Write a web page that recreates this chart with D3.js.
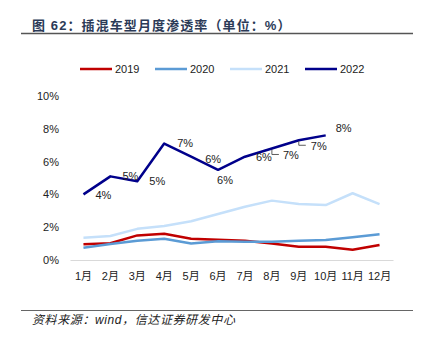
<!DOCTYPE html>
<html>
<head>
<meta charset="utf-8">
<script src="https://cdn.jsdelivr.net/npm/d3@7"></script>
<style>
  body { margin: 0; background: #fff; }
  text { font-family: "Liberation Sans", Arial, "Noto Sans CJK SC", sans-serif; }
</style>
</head>
<body>
<div id="chart"></div>
<script>
const months = ["1月", "2月", "3月", "4月", "5月", "6月", "7月", "8月", "9月", "10月", "11月", "12月"];
const seriesNames = ["2019", "2020", "2021", "2022"];
const values2019 = [0.96, 1.02, 1.5, 1.6, 1.3, 1.24, 1.18, 1.0, 0.81, 0.81, 0.63, 0.91];
const values2020 = [0.75, 0.98, 1.18, 1.3, 1.0, 1.14, 1.12, 1.12, 1.18, 1.22, 1.38, 1.57];
const values2021 = [1.36, 1.46, 1.9, 2.07, 2.36, 2.8, 3.25, 3.62, 3.41, 3.35, 4.07, 3.41];
const values2022 = [4.0, 5.1, 4.8, 7.1, 6.3, 5.5, 6.3, 6.8, 7.3, 7.6];
const yTicks = [0, 2, 4, 6, 8, 10];
const colors = ["#c00000", "#5b9bd5", "#c5e0fa", "#00008b"];

function createLineChart(containerId) {
  const W = 422, H = 344;
  const margin = { top: 96, right: 29, bottom: 84, left: 70 };
  const width = W - margin.left - margin.right;
  const height = H - margin.top - margin.bottom;

  const root = d3.select(containerId).append("svg")
    .attr("width", W)
    .attr("height", H);

  // title + rule
  root.append("text")
    .attr("x", 32)
    .attr("y", 30)
    .style("font-size", "13px")
    .style("font-weight", "bold")
    .style("letter-spacing", "1.1px")
    .style("fill", "#2b3a57")
    .text("图 62：插混车型月度渗透率（单位：%）");
  root.append("line")
    .attr("x1", 21).attr("x2", 413)
    .attr("y1", 33.5).attr("y2", 33.5)
    .attr("stroke", "#555").attr("stroke-width", 1.5);

  // footer
  root.append("line")
    .attr("x1", 21).attr("x2", 413)
    .attr("y1", 310.5).attr("y2", 310.5)
    .attr("stroke", "#666").attr("stroke-width", 1);
  root.append("text")
    .attr("x", 32)
    .attr("y", 324)
    .style("font-size", "12px")
    .style("font-style", "italic")
    .style("letter-spacing", "0.6px")
    .style("fill", "#222")
    .text("资料来源：wind，信达证券研发中心");

  const svg = root.append("g")
    .attr("transform", `translate(${margin.left},${margin.top})`);

  const x = d3.scaleBand().domain(months).range([0, width]);
  const y = d3.scaleLinear().domain([0, 10]).range([height, 0]);
  const cx = m => x(m) + x.bandwidth() / 2;

  // y axis labels
  const yAxis = svg.append("g")
    .call(d3.axisLeft(y).tickValues(yTicks).tickSize(0).tickPadding(11).tickFormat(d => d + "%"));
  yAxis.select(".domain").remove();
  yAxis.selectAll("text").style("font-size", "11px").style("fill", "#222")
    .style("font-family", "'Liberation Sans', Arial, sans-serif");

  // x axis
  const xAxis = svg.append("g")
    .attr("transform", `translate(0,${height})`)
    .call(d3.axisBottom(x).tickSize(0).tickPadding(12));
  xAxis.select(".domain").attr("stroke", "#d9d9d9").attr("stroke-width", 1);
  xAxis.selectAll("text").style("font-size", "11px").style("fill", "#222")
    .style("font-family", "'Liberation Sans', 'Noto Sans CJK SC', sans-serif");

  const allSeries = [values2019, values2020, values2021, values2022];
  const line = d3.line()
    .x((d, i) => cx(months[i]))
    .y(d => y(d));

  allSeries.forEach((vals, k) => {
    svg.append("path")
      .datum(vals)
      .attr("fill", "none")
      .attr("stroke", colors[k])
      .attr("stroke-width", 2.5)
      .attr("stroke-linejoin", "round")
      .attr("d", line);
  });

  // data labels for 2022 (offsets from each point; leader = callout line)
  const labelPlace = [
    { dx: 20, dy: 1 }, { dx: 20, dy: 0 }, { dx: 20, dy: 0 }, { dx: 21, dy: 0 },
    { dx: 22, dy: 2 }, { dx: 7, dy: 10 }, { dx: 19, dy: 0 },
    { dx: 19, dy: 7, leader: true }, { dx: 20, dy: 6, leader: true }, { dx: 18, dy: -7 }
  ];
  values2022.forEach((v, i) => {
    const px = cx(months[i]), py = y(v);
    const p = labelPlace[i];
    if (p.leader) {
      svg.append("path")
        .attr("d", `M${px},${py + 1}V${py + p.dy - 1}H${px + 7}`)
        .attr("fill", "none")
        .attr("stroke", "#333")
        .attr("stroke-width", 0.8);
    }
    svg.append("text")
      .attr("x", px + p.dx)
      .attr("y", py + p.dy)
      .attr("dy", "0.35em")
      .attr("text-anchor", "middle")
      .style("font-size", "11px")
      .style("fill", "#222")
      .text(Math.round(v) + "%");
  });

  // legend
  const legend = root.append("g").attr("transform", "translate(80,69)");
  seriesNames.forEach((name, i) => {
    const g = legend.append("g").attr("transform", `translate(${i * 75},0)`);
    g.append("line")
      .attr("x1", 0).attr("x2", 32)
      .attr("stroke", colors[i]).attr("stroke-width", 2.5);
    g.append("text")
      .attr("x", 35)
      .attr("dy", "0.35em")
      .style("font-size", "11px")
      .style("fill", "#222")
      .text(name);
  });
}

createLineChart("#chart");
</script>
</body>
</html>
